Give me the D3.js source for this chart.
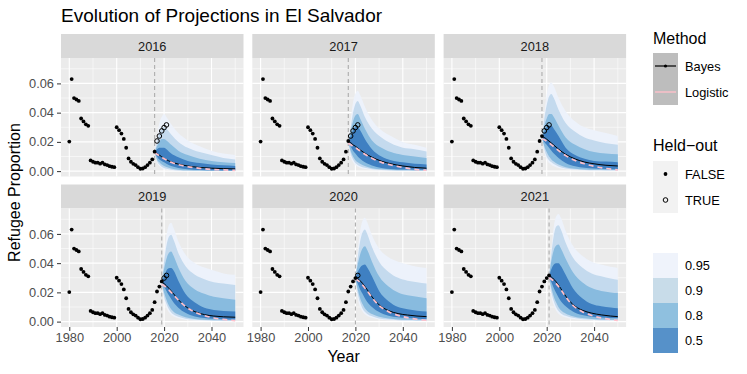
<!DOCTYPE html>
<html>
<head>
<meta charset="utf-8">
<script src="https://cdn.jsdelivr.net/npm/d3@7"></script>
<style>
  body { margin: 0; background: #fff; }
  svg { font-family: "Liberation Sans", Arial, sans-serif; }
</style>
</head>
<body>
<svg id="chart" width="747" height="374"></svg>
<script>
// observed refugee proportion, El Salvador
var obsYears = [1980,1981,1982,1983,1984,1985,1986,1987,1988,1989,1990,1991,1992,1993,1994,1995,1996,1997,1998,1999,
                2000,2001,2002,2003,2004,2005,2006,2007,2008,2009,2010,2011,2012,2013,2014,2015,2016,2017,2018,2019,2020,2021];
var obsValues = [0.0202,0.063,0.050,0.049,0.048,0.036,0.034,0.032,0.031,0.0073,0.0064,0.0058,0.0058,0.0051,0.0058,0.0046,0.0041,0.0034,0.003,0.0027,
                 0.030,0.028,0.0257,0.022,0.016,0.0087,0.0064,0.005,0.0041,0.0027,0.0016,0.0018,0.0027,0.0041,0.0058,0.008,0.0133,0.0206,0.024,0.0275,0.0298,0.0316];

var cutoffs = [2016, 2017, 2018, 2019, 2020, 2021];

// forecast knots per panel
var fcYears = [
  [2016,2017,2018,2019,2020,2021,2023,2026,2030,2035,2040,2045,2050],
  [2017,2018,2019,2020,2021,2022,2024,2027,2031,2035,2040,2045,2050],
  [2018,2019,2020,2021,2022,2023,2025,2028,2032,2036,2040,2045,2050],
  [2019,2020,2021,2022,2023,2024,2026,2029,2033,2037,2041,2045,2050],
  [2020,2021,2022,2023,2024,2025,2027,2030,2034,2038,2042,2046,2050],
  [2021,2022,2023,2024,2025,2026,2028,2031,2035,2039,2043,2047,2050]
];
var hi95 = [
  [0.013,0.024,0.033,0.037,0.039,0.037,0.032,0.026,0.021,0.017,0.014,0.012,0.011],
  [0.020,0.035,0.047,0.053,0.055,0.052,0.044,0.035,0.028,0.024,0.020,0.018,0.016],
  [0.023,0.040,0.052,0.059,0.0607,0.058,0.050,0.041,0.034,0.030,0.028,0.026,0.024],
  [0.027,0.045,0.059,0.066,0.0676,0.064,0.055,0.046,0.040,0.037,0.035,0.033,0.032],
  [0.030,0.048,0.062,0.069,0.071,0.068,0.059,0.050,0.044,0.041,0.039,0.0375,0.0367],
  [0.031,0.050,0.065,0.072,0.0737,0.071,0.062,0.052,0.045,0.041,0.039,0.0375,0.0367]
];
var hi90 = [
  [0.013,0.020,0.026,0.029,0.030,0.029,0.025,0.020,0.016,0.013,0.011,0.009,0.008],
  [0.020,0.030,0.040,0.046,0.048,0.045,0.037,0.029,0.023,0.019,0.016,0.015,0.0135],
  [0.023,0.036,0.045,0.051,0.0527,0.050,0.042,0.033,0.027,0.023,0.021,0.019,0.018],
  [0.027,0.041,0.052,0.058,0.0595,0.056,0.047,0.038,0.032,0.029,0.027,0.026,0.025],
  [0.030,0.044,0.055,0.061,0.063,0.060,0.051,0.041,0.034,0.030,0.028,0.027,0.026],
  [0.031,0.047,0.059,0.065,0.066,0.063,0.054,0.044,0.037,0.033,0.031,0.0295,0.0286]
];
var hi80 = [
  [0.013,0.017,0.020,0.022,0.022,0.021,0.018,0.014,0.011,0.0085,0.007,0.006,0.0055],
  [0.020,0.027,0.034,0.038,0.039,0.036,0.029,0.021,0.016,0.013,0.011,0.010,0.009],
  [0.023,0.031,0.036,0.039,0.039,0.037,0.031,0.023,0.018,0.015,0.013,0.012,0.0115],
  [0.027,0.036,0.043,0.047,0.048,0.045,0.037,0.028,0.022,0.019,0.017,0.016,0.015],
  [0.030,0.039,0.046,0.050,0.0515,0.049,0.041,0.031,0.024,0.020,0.018,0.017,0.016],
  [0.031,0.042,0.049,0.052,0.0527,0.050,0.043,0.034,0.027,0.023,0.021,0.020,0.0195]
];
var hi50 = [
  [0.013,0.015,0.016,0.016,0.016,0.015,0.012,0.0095,0.007,0.0055,0.0045,0.004,0.0035],
  [0.020,0.024,0.028,0.030,0.030,0.028,0.022,0.015,0.010,0.0075,0.006,0.005,0.0046],
  [0.023,0.027,0.030,0.031,0.031,0.029,0.024,0.016,0.011,0.0085,0.007,0.0065,0.006],
  [0.027,0.031,0.035,0.0365,0.0367,0.035,0.028,0.019,0.013,0.0095,0.008,0.0073,0.0069],
  [0.030,0.034,0.037,0.0385,0.039,0.037,0.031,0.021,0.014,0.010,0.0085,0.0075,0.007],
  [0.031,0.036,0.039,0.040,0.040,0.038,0.032,0.023,0.016,0.012,0.0105,0.0097,0.0092]
];
var lo50 = [
  [0.013,0.010,0.008,0.007,0.006,0.005,0.0035,0.0022,0.0013,0.0008,0.0006,0.0005,0.0004],
  [0.020,0.017,0.014,0.012,0.010,0.0085,0.006,0.0038,0.0022,0.0015,0.0011,0.001,0.0009],
  [0.023,0.020,0.018,0.016,0.014,0.012,0.009,0.0055,0.0033,0.0023,0.0018,0.0015,0.0013],
  [0.027,0.024,0.021,0.018,0.0155,0.013,0.0095,0.006,0.0035,0.0025,0.002,0.0017,0.0015],
  [0.030,0.026,0.022,0.019,0.016,0.0135,0.010,0.0065,0.004,0.003,0.0024,0.002,0.0018],
  [0.031,0.027,0.023,0.0195,0.0165,0.014,0.0105,0.007,0.0045,0.0034,0.0028,0.0025,0.0024]
];
var lo80 = [
  [0.013,0.008,0.006,0.0045,0.0035,0.0028,0.0018,0.001,0.0006,0.0004,0.0003,0.0002,0.0002],
  [0.020,0.014,0.010,0.0075,0.006,0.005,0.0035,0.002,0.0012,0.0008,0.0006,0.0005,0.0005],
  [0.023,0.017,0.013,0.010,0.008,0.0065,0.0045,0.0027,0.0016,0.0011,0.0009,0.0008,0.0007],
  [0.027,0.020,0.015,0.011,0.0085,0.0068,0.0048,0.003,0.0018,0.0013,0.001,0.0009,0.0008],
  [0.030,0.022,0.016,0.012,0.0092,0.0073,0.0052,0.0033,0.0021,0.0015,0.0012,0.001,0.0009],
  [0.031,0.023,0.017,0.013,0.0098,0.0078,0.0056,0.0037,0.0024,0.0018,0.0015,0.0013,0.0012]
];
var lo90 = [
  [0.013,0.007,0.0045,0.003,0.0022,0.0017,0.001,0.0005,0.0003,0.0002,0.0001,0.0001,0.0001],
  [0.020,0.012,0.008,0.0055,0.0042,0.0034,0.0023,0.0013,0.0008,0.0005,0.0004,0.0003,0.0003],
  [0.023,0.015,0.010,0.0075,0.006,0.0048,0.0032,0.0018,0.0011,0.0008,0.0006,0.0005,0.0005],
  [0.027,0.017,0.012,0.0085,0.0062,0.0048,0.0033,0.002,0.0012,0.0009,0.0007,0.0006,0.0005],
  [0.030,0.019,0.013,0.009,0.0067,0.0052,0.0036,0.0022,0.0014,0.001,0.0008,0.0007,0.0006],
  [0.031,0.020,0.014,0.0098,0.0072,0.0056,0.004,0.0026,0.0017,0.0013,0.001,0.0009,0.0009]
];
var lo95 = [
  [0.013,0.006,0.0035,0.002,0.0013,0.001,0.0005,0.0002,0.0001,0,0,0,0],
  [0.020,0.010,0.006,0.004,0.003,0.0023,0.0015,0.0008,0.0004,0.0003,0.0002,0.0001,0.0001],
  [0.023,0.013,0.008,0.0055,0.0042,0.0033,0.0021,0.0012,0.0007,0.0005,0.0004,0.0003,0.0003],
  [0.027,0.015,0.0095,0.0065,0.0045,0.0035,0.0023,0.0013,0.0008,0.0006,0.0004,0.0003,0.0003],
  [0.030,0.016,0.010,0.007,0.005,0.0038,0.0026,0.0015,0.0009,0.0007,0.0005,0.0004,0.0004],
  [0.031,0.017,0.011,0.0075,0.0054,0.0042,0.0029,0.0018,0.0012,0.0009,0.0007,0.0006,0.0006]
];
var bayes = [
  [0.013,0.012,0.011,0.0098,0.0088,0.0078,0.0063,0.0048,0.0035,0.0025,0.002,0.0017,0.0015],
  [0.020,0.0195,0.018,0.017,0.0158,0.0145,0.0122,0.0095,0.0068,0.005,0.0035,0.0025,0.002],
  [0.0235,0.023,0.0218,0.0205,0.0192,0.0178,0.015,0.0115,0.0083,0.0062,0.005,0.004,0.0035],
  [0.027,0.026,0.0245,0.0228,0.021,0.019,0.015,0.0105,0.0068,0.0048,0.0038,0.0033,0.003],
  [0.030,0.0295,0.028,0.0262,0.024,0.0218,0.017,0.0115,0.0075,0.0055,0.0045,0.0038,0.0034],
  [0.031,0.0305,0.029,0.0272,0.025,0.0225,0.0175,0.0118,0.0078,0.0058,0.0046,0.0038,0.0034]
];
var logistic = [
  [0.0125,0.0115,0.0105,0.0095,0.0085,0.0076,0.006,0.0044,0.003,0.0019,0.0012,0.0008,0.0005],
  [0.019,0.018,0.017,0.016,0.015,0.0138,0.0115,0.0088,0.006,0.0042,0.0025,0.0012,0.0006],
  [0.022,0.0215,0.0205,0.0193,0.018,0.0167,0.014,0.0106,0.0073,0.005,0.0033,0.0018,0.0008],
  [0.0255,0.0245,0.0232,0.0217,0.020,0.0183,0.0148,0.0104,0.0065,0.0041,0.0025,0.0015,0.0007],
  [0.029,0.0282,0.0268,0.025,0.023,0.021,0.0165,0.011,0.0068,0.0043,0.0027,0.0016,0.0009],
  [0.030,0.029,0.0277,0.026,0.024,0.0218,0.017,0.0112,0.0068,0.0042,0.0025,0.0014,0.0008]
];

var levels = ["0.95", "0.9", "0.8", "0.5"];
var bandFill = ["#edf2fb", "#c4daee", "#88bbdf", "#3f80c2"];
var keyFill = ["#eff3fb", "#c8dce9", "#8fc0df", "#5691c9"];
var xTicks = [1980, 2000, 2020, 2040];
var yTicks = [0, 0.02, 0.04, 0.06];

var svg = d3.select("#chart");
var left = 61, pw = 182.5, gapX = 8.8;
var rowTop = [34, 184.5], stripH = 24, ph = 118.5;

var x = d3.scaleLinear().domain([1976.5, 2053.5]).range([0, pw]);
var yMax = d3.max(hi95, function(a) { return d3.max(a); });
var pad = yMax * 0.05;
var y = d3.scaleLinear().domain([-pad, yMax + pad]).range([ph, 0]);

var line = d3.line().x(function(d) { return x(d[0]); }).y(function(d) { return y(d[1]); }).curve(d3.curveMonotoneX);
var area = d3.area().x(function(d) { return x(d[0]); }).y0(function(d) { return y(d[1]); }).y1(function(d) { return y(d[2]); }).curve(d3.curveMonotoneX);

svg.append("text").attr("x", 61).attr("y", 22).attr("font-size", 19).attr("fill", "#000")
  .text("Evolution of Projections in El Salvador");

cutoffs.forEach(function(c, i) {
  var col = i % 3, row = Math.floor(i / 3);
  var px = left + col * (pw + gapX), py = rowTop[row];
  var g = svg.append("g").attr("transform", "translate(" + px + "," + py + ")");

  g.append("rect").attr("width", pw).attr("height", stripH).attr("fill", "#d9d9d9");
  g.append("text").attr("x", pw / 2).attr("y", stripH / 2 + 4.5).attr("text-anchor", "middle")
    .attr("font-size", 12.8).attr("fill", "#1a1a1a").text(c);

  var p = g.append("g").attr("transform", "translate(0," + stripH + ")");
  p.append("rect").attr("width", pw).attr("height", ph).attr("fill", "#ebebeb");

  // minor grid
  [1990, 2010, 2030, 2050].forEach(function(t) {
    p.append("line").attr("x1", x(t)).attr("x2", x(t)).attr("y1", 0).attr("y2", ph).attr("stroke", "#fff").attr("stroke-width", 0.55);
  });
  [0.01, 0.03, 0.05, 0.07].forEach(function(t) {
    p.append("line").attr("x1", 0).attr("x2", pw).attr("y1", y(t)).attr("y2", y(t)).attr("stroke", "#fff").attr("stroke-width", 0.55);
  });
  xTicks.forEach(function(t) {
    p.append("line").attr("x1", x(t)).attr("x2", x(t)).attr("y1", 0).attr("y2", ph).attr("stroke", "#fff").attr("stroke-width", 1.1);
  });
  yTicks.forEach(function(t) {
    p.append("line").attr("x1", 0).attr("x2", pw).attr("y1", y(t)).attr("y2", y(t)).attr("stroke", "#fff").attr("stroke-width", 1.1);
  });

  // bands, widest first
  var his = [hi95[i], hi90[i], hi80[i], hi50[i]];
  var los = [lo95[i], lo90[i], lo80[i], lo50[i]];
  levels.forEach(function(lv, k) {
    var pts = fcYears[i].map(function(yr, j) { return [yr, los[k][j], his[k][j]]; });
    p.append("path").attr("d", area(pts)).attr("fill", bandFill[k]);
  });

  p.append("line").attr("x1", x(c)).attr("x2", x(c)).attr("y1", 0).attr("y2", ph)
    .attr("stroke", "#adadad").attr("stroke-width", 1.1).attr("stroke-dasharray", "4,3");

  var bp = fcYears[i].map(function(yr, j) { return [yr, bayes[i][j]]; });
  p.append("path").attr("d", line(bp)).attr("fill", "none").attr("stroke", "#000").attr("stroke-width", 1);
  var lp = fcYears[i].map(function(yr, j) { return [yr, logistic[i][j]]; });
  p.append("path").attr("d", line(lp)).attr("fill", "none").attr("stroke", "#ffc0cb")
    .attr("stroke-width", 1.7).attr("stroke-dasharray", "5,4");

  obsYears.forEach(function(yr, j) {
    var held = yr > c;
    p.append("circle").attr("cx", x(yr)).attr("cy", y(obsValues[j]))
      .attr("r", held ? 2.3 : 1.9)
      .attr("fill", held ? "none" : "#000")
      .attr("stroke", held ? "#000" : "none").attr("stroke-width", 1);
  });

  if (col === 0) {
    var ya = p.append("g").call(d3.axisLeft(y).tickValues(yTicks).tickSize(4).tickPadding(3).tickFormat(d3.format(".2f")));
    ya.select(".domain").remove();
    ya.selectAll("line").attr("stroke", "#333");
    ya.selectAll("text").attr("font-size", 12.8).attr("fill", "#4d4d4d").attr("font-family", "Liberation Sans, Arial, sans-serif");
  }
  if (row === 1) {
    var xa = p.append("g").attr("transform", "translate(0," + ph + ")")
      .call(d3.axisBottom(x).tickValues(xTicks).tickSize(4).tickPadding(2).tickFormat(d3.format("d")));
    xa.select(".domain").remove();
    xa.selectAll("line").attr("stroke", "#333");
    xa.selectAll("text").attr("font-size", 12.8).attr("fill", "#4d4d4d").attr("font-family", "Liberation Sans, Arial, sans-serif");
  }
});

// axis titles
svg.append("text").attr("x", left + (3 * pw + 2 * gapX) / 2).attr("y", 362).attr("text-anchor", "middle")
  .attr("font-size", 16).text("Year");
svg.append("text").attr("transform", "translate(20," + ((rowTop[0] + stripH + rowTop[1] + stripH + ph) / 2) + ") rotate(-90)")
  .attr("text-anchor", "middle").attr("font-size", 16).text("Refugee Proportion");

// legends
var lx = 653, kw = 25;
svg.append("text").attr("x", lx).attr("y", 44).attr("font-size", 16).text("Method");
svg.append("rect").attr("x", lx).attr("y", 53).attr("width", kw).attr("height", 52).attr("fill", "#bdbdbd");
svg.append("line").attr("x1", lx + 2).attr("x2", lx + kw - 2).attr("y1", 66).attr("y2", 66).attr("stroke", "#000").attr("stroke-width", 1.2);
svg.append("circle").attr("cx", lx + kw / 2).attr("cy", 66).attr("r", 1.6).attr("fill", "#000");
svg.append("line").attr("x1", lx + 2).attr("x2", lx + kw - 2).attr("y1", 92).attr("y2", 92).attr("stroke", "#ffc0cb").attr("stroke-width", 1.4);
svg.append("text").attr("x", 685).attr("y", 70.5).attr("font-size", 12.8).text("Bayes");
svg.append("text").attr("x", 685).attr("y", 96.5).attr("font-size", 12.8).text("Logistic");

svg.append("text").attr("x", lx).attr("y", 151).attr("font-size", 16).text("Held\u2212out");
svg.append("rect").attr("x", lx).attr("y", 161).attr("width", kw).attr("height", 52).attr("fill", "#f2f2f2");
svg.append("circle").attr("cx", lx + kw / 2).attr("cy", 174).attr("r", 1.9).attr("fill", "#000");
svg.append("circle").attr("cx", lx + kw / 2).attr("cy", 200).attr("r", 2.3).attr("fill", "none").attr("stroke", "#000").attr("stroke-width", 1);
svg.append("text").attr("x", 685).attr("y", 178.5).attr("font-size", 12.8).text("FALSE");
svg.append("text").attr("x", 685).attr("y", 204.5).attr("font-size", 12.8).text("TRUE");

levels.forEach(function(lv, k) {
  var ky = 253 + k * 25;
  svg.append("rect").attr("x", lx).attr("y", ky).attr("width", kw).attr("height", 25).attr("fill", keyFill[k]);
  svg.append("text").attr("x", 685).attr("y", ky + 17).attr("font-size", 12.8).text(lv);
});
</script>
</body>
</html>
